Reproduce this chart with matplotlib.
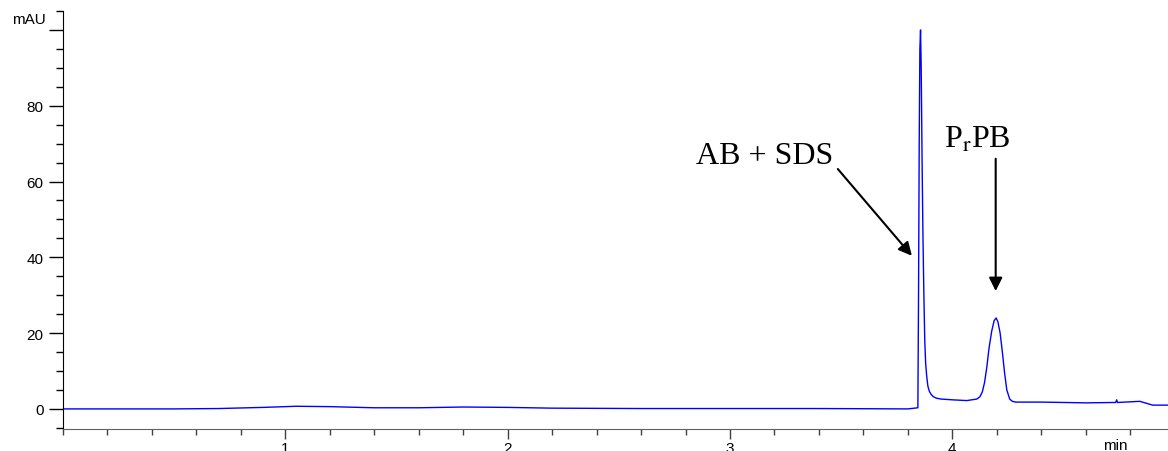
import matplotlib
matplotlib.use('Agg')
from matplotlib import pyplot as plt
from matplotlib.ticker import MultipleLocator

# chromatogram trace (time in min, signal in mAU)
times = [0.00, 0.30, 0.50, 0.70, 0.90, 1.05, 1.20, 1.40, 1.60, 1.80, 2.00, 2.20,
         2.60, 3.00, 3.40, 3.80, 3.845, 3.848, 3.851, 3.854, 3.857, 3.860, 3.864,
         3.868, 3.872, 3.876, 3.880, 3.885, 3.890, 3.897, 3.905, 3.915, 3.930,
         3.950, 4.000, 4.065, 4.110, 4.124, 4.135, 4.145, 4.155, 4.165, 4.177,
         4.188, 4.197, 4.205, 4.215, 4.225, 4.235, 4.245, 4.258, 4.270, 4.285,
         4.400, 4.500, 4.600, 4.735, 4.739, 4.743, 4.843, 4.901, 4.969]
signal = [0.0, 0.0, 0.0, 0.1, 0.4, 0.7, 0.6, 0.3, 0.3, 0.5, 0.4, 0.2,
          0.1, 0.1, 0.1, 0.0, 0.3, 30.0, 70.0, 95.0, 100.0, 90.0, 65.0,
          45.0, 30.0, 18.0, 12.0, 8.5, 6.0, 4.6, 3.8, 3.2, 2.8,
          2.6, 2.4, 2.2, 2.6, 3.2, 4.5, 7.0, 11.0, 16.0, 20.5,
          23.3, 24.0, 23.0, 20.0, 15.0, 9.5, 5.0, 2.6, 2.0, 1.8,
          1.8, 1.7, 1.6, 1.7, 2.4, 1.7, 2.0, 1.0, 1.0]

peak_labels = ['AB + SDS', 'P$_\\mathrm{r}$PB']

plt.rcParams['mathtext.fontset'] = 'stix'

fig = plt.figure(figsize=(11.68, 4.52), dpi=100)
ax = fig.add_axes([63 / 1168, 22 / 452, 1 - 63 / 1168, 418 / 452])

ax.plot(times, signal, c='#0000ff', lw=1.0)

ax.set_xlim(0, 4.97)
ax.set_ylim(-5.3, 105)

ax.xaxis.set_minor_locator(MultipleLocator(0.2))
ax.yaxis.set_minor_locator(MultipleLocator(5))
ax.set_xticks([1, 2, 3, 4])
ax.set_xticklabels(['1', '2', '3', '4'])
ax.set_yticks([0, 20, 40, 60, 80, 100])
ax.set_yticklabels(['0', '20', '40', '60', '80', ''])

ax.spines['top'].set_visible(False)
ax.spines['right'].set_visible(False)
ax.spines['bottom'].set_color('#606060')
ax.spines['left'].set_color('black')

ax.tick_params(axis='y', which='major', length=10, width=1, labelsize=11,
               direction='out', pad=4)
ax.tick_params(axis='y', which='minor', length=5, width=1, direction='out')
ax.tick_params(axis='x', which='major', length=7, width=1, labelsize=11,
               direction='out', pad=1.5, color='#404040')
ax.tick_params(axis='x', which='minor', length=4, width=1, direction='out',
               color='#404040')
for lab in ax.get_xticklabels() + ax.get_yticklabels():
    lab.set_fontfamily('Liberation Sans')

fig.text(29 / 1168, 1 - 20 / 452, 'mAU', ha='center', va='center',
         fontsize=11, family='Liberation Sans')
fig.text(1115 / 1168, 1 - 446 / 452, 'min', ha='center', va='center',
         fontsize=11, family='Liberation Sans')

# peak labels and arrows
ax.text(3.157, 67.0, peak_labels[0], ha='center', va='center', fontsize=23,
        family='Liberation Serif')
ax.text(4.114, 71.2, peak_labels[1], ha='center', va='center', fontsize=23,
        family='Liberation Serif')
arrow = dict(arrowstyle='-|>', color='black', lw=1.5, mutation_scale=20,
             shrinkA=0, shrinkB=0)
ax.annotate('', xy=(3.818, 40.4), xytext=(3.485, 63.3), arrowprops=arrow)
ax.annotate('', xy=(4.195, 31.1), xytext=(4.195, 66.0), arrowprops=arrow)

plt.savefig('out.png', dpi=100)
